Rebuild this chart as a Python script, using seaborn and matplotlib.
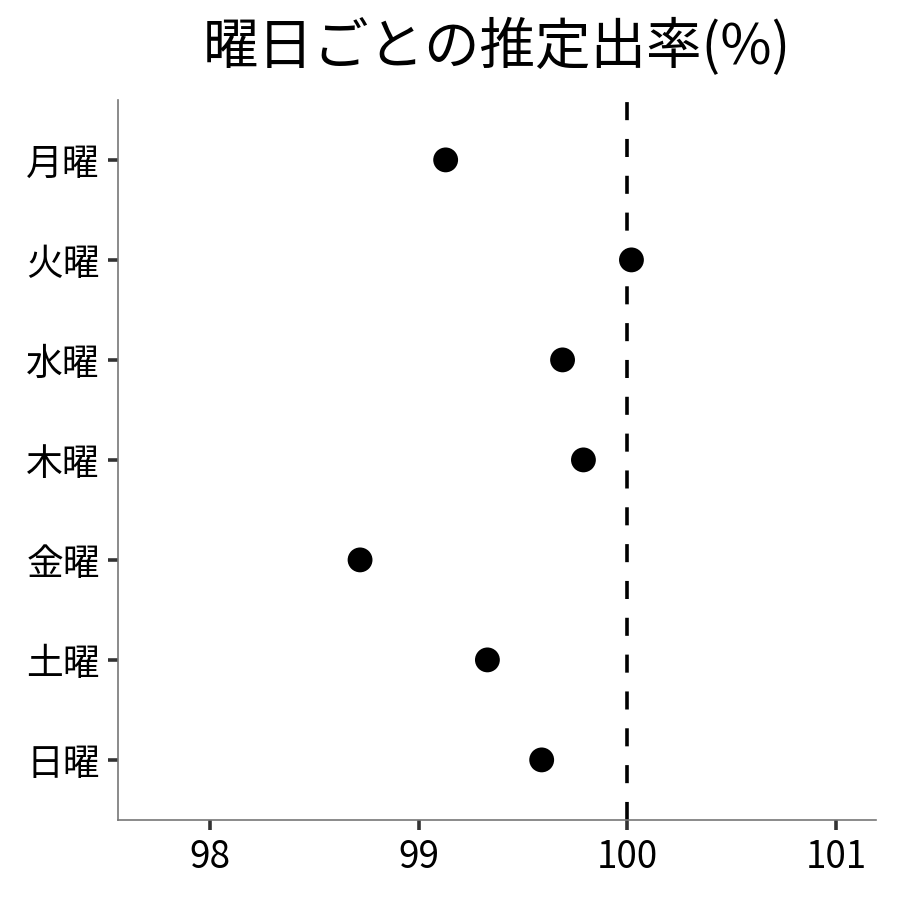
import matplotlib
matplotlib.use("Agg")
import matplotlib.pyplot as plt
import seaborn as sns
import pandas as pd

days = ["月曜", "火曜", "水曜", "木曜", "金曜", "土曜", "日曜"]
rates = [99.13, 100.02, 99.69, 99.79, 98.72, 99.33, 99.59]
x_ticks = [98, 99, 100, 101]

sns.set_theme(style="ticks")
plt.rcParams['font.family'] = ['Noto Sans CJK JP', 'DejaVu Sans']

df = pd.DataFrame({"day": days, "rate": rates})

fig, ax = plt.subplots(figsize=(9, 9), dpi=100)
fig.subplots_adjust(left=0.131, right=0.973, top=0.889, bottom=0.089)

sns.scatterplot(data=df, x="rate", y="day", color="black", s=320,
                edgecolor="none", ax=ax, zorder=3)
ax.axvline(100, color="black", lw=2.6, dashes=(5, 5.2), zorder=2)

ax.set_xlim(97.56, 101.19)
ax.set_ylim(6.6, -0.6)
ax.set_xticks(x_ticks)
ax.set_xticklabels([str(t) for t in x_ticks])
ax.set_xlabel("")
ax.set_ylabel("")
ax.set_title("曜日ごとの推定出率(%)", fontsize=40, pad=26, color="black")
ax.tick_params(axis="both", labelsize=26.5, length=7, width=2.6,
               color="#333333", labelcolor="black", pad=6)
for side in ["top", "right"]:
    ax.spines[side].set_visible(False)
for side in ["left", "bottom"]:
    ax.spines[side].set_color("#777777")
    ax.spines[side].set_linewidth(1.2)

fig.savefig("out.png", dpi=100)
